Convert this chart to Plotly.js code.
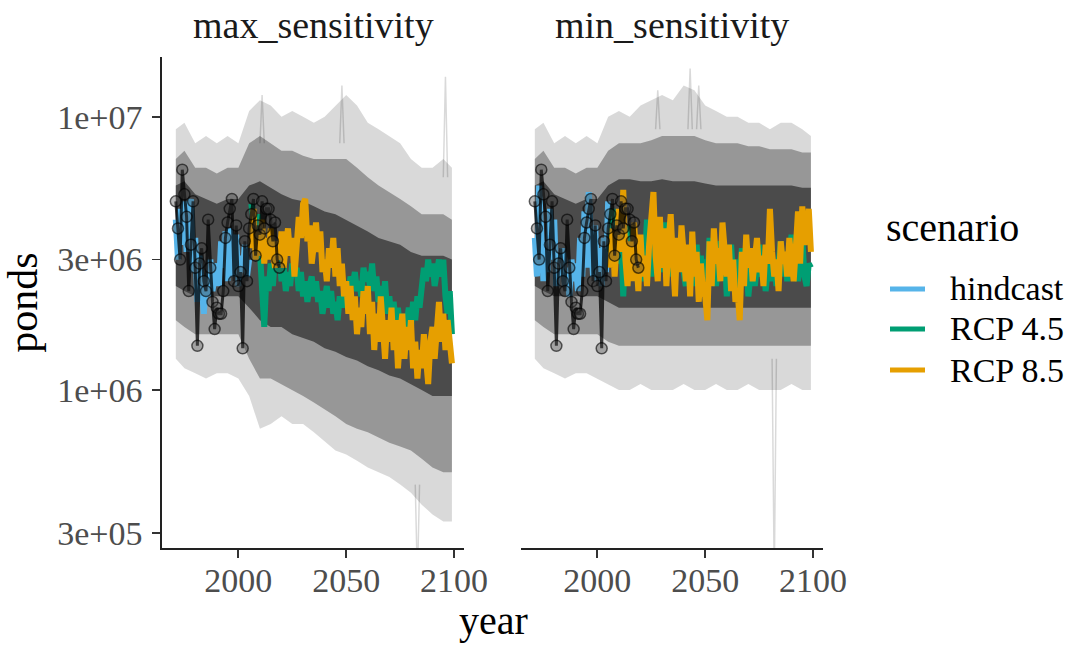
<!DOCTYPE html>
<html><head><meta charset="utf-8">
<script src="https://cdn.plot.ly/plotly-3.0.1.min.js"></script>
<style>html,body{margin:0;padding:0;background:#fff}#chart{width:1071px;height:645px}</style>
</head><body><div id="chart"></div><script>
// ---- data (values in millions of ponds) ----
const panels = ["max_sensitivity", "min_sensitivity"];
const scenarios = ["hindcast", "RCP 4.5", "RCP 8.5"];
const hindStart = 1971, rcpStart = 2006, obsStart = 1971;

const obs_M = [4.9,3.9,3.0,6.4,5.2,4.3,2.3,3.4,4.9,2.8,1.45,2.9,3.3,2.5,2.3,4.2,2.8,2.1,1.67,2.0,1.9,1.9,2.3,3.6,4.1,4.6,5.0,2.5,4.0,2.4,2.7,1.42,3.5,2.5,3.9,4.4,5.0,3.1,4.0,3.7,4.9,3.9,4.6,4.6,4.2,3.5,4.1,3.0,2.8];

const hindMax_M = [4.2,3.0,4.6,3.4,4.9,3.2,4.4,5.0,2.7,3.6,2.1,3.1,2.4,1.9,2.6,2.2,3.0,2.3,2.6,2.9,2.4,3.5,2.8,3.8,2.5,3.9,3.3,2.6,3.7,2.4,3.1,2.7,3.4,2.6,3.0];
const hindMin_M = [3.6,2.6,5.6,3.1,2.5,3.5,2.7,4.6,3.0,4.2,2.4,3.1,2.6,3.3,2.4,2.8,2.2,3.0,2.5,2.9,2.3,3.6,2.6,4.5,2.8,5.3,3.2,2.6,4.0,2.5,3.3,2.4,3.6,2.7,4.9];

const rcp45Max_M = [4.8,4.2,3.6,4.4,3.2,2.2,1.7,2.6,2.3,2.9,2.4,3.1,2.7,3.3,2.5,2.8,2.3,2.7,2.4,2.9,2.6,2.8,2.3,2.7,2.2,2.5,2.1,2.4,2.6,2.2,2.5,2.1,2.3,1.9,2.2,2.4,2.0,2.3,1.9,2.1,1.8,2.2,2.0,2.3,2.0,2.3,2.6,2.4,2.7,2.3,2.5,2.2,2.8,2.5,2.7,2.4,2.9,2.3,2.6,2.1,2.4,2.0,2.5,1.9,2.2,1.8,2.1,1.7,2.0,1.6,1.9,1.5,1.8,2.0,1.7,2.1,1.8,2.2,2.0,2.4,2.8,2.5,3.0,2.6,2.9,2.4,2.8,3.0,2.6,3.0,2.2,1.9,2.3,1.6];
const rcp85Max_M = [3.3,4.6,3.0,3.8,3.1,4.2,2.9,3.6,3.0,3.9,3.2,2.8,3.5,3.0,3.8,2.8,3.4,3.9,3.1,3.6,2.6,3.4,4.3,3.6,4.8,5.0,3.5,4.0,2.9,3.4,4.1,3.2,3.8,2.7,3.0,2.5,3.3,2.8,3.6,2.6,3.3,2.4,2.9,2.2,2.5,1.9,2.4,1.8,2.2,1.6,2.0,1.7,2.3,1.9,2.4,1.6,2.1,1.4,1.9,1.5,2.2,1.7,1.3,1.8,1.5,2.0,1.4,1.8,1.2,1.6,1.9,1.3,1.7,1.4,1.8,1.2,1.5,1.1,1.4,1.2,1.6,1.3,1.05,1.5,1.7,1.3,1.8,2.1,1.5,1.9,1.4,1.8,1.5,1.25];
const rcp45Min_M = [3.2,4.6,3.5,4.2,2.9,3.8,2.2,3.4,2.8,4.0,3.0,2.6,3.6,2.7,3.3,2.5,3.0,4.2,3.1,2.6,3.5,4.0,3.0,2.7,3.4,4.1,2.9,3.6,2.6,3.1,2.5,3.3,2.8,3.7,2.7,2.4,3.2,2.6,2.9,2.4,3.4,2.7,3.1,2.5,3.0,2.6,3.6,2.8,3.3,2.4,2.9,3.5,2.6,3.2,2.2,2.9,3.4,2.5,3.0,2.3,2.8,3.3,2.5,3.1,2.2,2.7,3.2,2.4,2.9,3.4,2.6,3.0,2.3,2.8,3.3,2.5,3.0,2.4,2.8,3.5,2.6,3.1,2.5,3.2,3.7,2.7,3.3,2.5,3.0,3.6,2.6,2.4,2.9,2.8];
const rcp85Min_M = [2.8,3.9,2.6,3.3,4.6,3.2,5.4,3.0,2.4,3.5,2.5,4.1,3.0,2.3,3.7,2.6,3.1,2.4,3.4,4.2,5.3,3.1,2.5,4.3,2.8,3.9,2.4,3.5,4.4,3.0,2.2,3.6,2.7,4.0,3.1,2.5,3.4,2.2,3.8,2.6,3.2,2.1,2.9,2.3,2.2,1.8,3.5,2.4,3.9,2.9,3.3,2.5,4.1,3.0,2.6,3.4,2.3,3.0,2.1,2.3,1.8,3.2,2.4,3.7,2.8,3.3,2.5,3.0,3.6,2.7,3.1,2.4,3.4,2.9,4.6,3.2,2.6,3.0,2.3,3.5,2.9,3.2,2.6,3.6,3.0,2.5,3.3,4.5,2.9,4.7,3.4,3.8,4.6,3.2];

// ensemble envelope (grey cloud), read at these years
const bandYears = [1971,1975,1980,1985,1990,1995,2000,2005,2010,2015,2020,2025,2030,2035,2040,2045,2050,2055,2060,2065,2070,2075,2080,2085,2090,2095,2099];
const maxOuterHi_M = [9.0,9.5,8.0,8.5,8.0,8.5,8.0,10.5,11.5,11.0,10.0,10.5,10.0,9.5,10.0,11.0,12.0,11.0,9.5,9.0,8.5,8.0,7.0,6.5,6.5,7.0,6.5];
const maxOuterLo_M = [1.3,1.2,1.15,1.1,1.15,1.15,1.1,0.95,0.72,0.75,0.8,0.75,0.75,0.7,0.65,0.6,0.58,0.55,0.52,0.5,0.48,0.45,0.42,0.38,0.35,0.33,0.33];
const maxMidHi_M = [7.0,7.5,6.5,6.5,6.2,6.5,6.5,8.0,8.5,8.0,7.5,7.5,7.2,7.0,7.0,7.0,7.0,6.5,6.0,5.6,5.3,5.0,4.7,4.4,4.4,4.4,4.2];
const maxMidLo_M = [1.8,1.7,1.6,1.6,1.6,1.6,1.6,1.3,1.1,1.1,1.05,1.0,0.95,0.9,0.85,0.8,0.75,0.72,0.7,0.67,0.64,0.62,0.6,0.56,0.52,0.5,0.5];
const maxCoreHi_M = [5.6,5.8,5.2,5.0,4.8,5.0,5.0,5.6,5.8,5.5,5.2,5.0,4.9,4.7,4.5,4.4,4.2,4.0,3.8,3.6,3.5,3.4,3.2,3.1,3.1,3.1,3.0];
const maxCoreLo_M = [2.4,2.3,2.2,2.2,2.2,2.2,2.2,2.0,1.8,1.7,1.7,1.6,1.55,1.5,1.42,1.38,1.32,1.28,1.22,1.18,1.13,1.1,1.05,1.0,0.95,0.95,0.95];
const minOuterHi_M = [9.0,9.5,8.0,8.5,8.0,8.5,8.0,10.0,10.5,10.0,11.0,11.5,12.0,11.5,13.0,12.5,11.0,10.5,10.0,10.0,9.5,9.5,9.0,9.5,9.5,9.0,8.5];
const minOuterLo_M = [1.3,1.2,1.15,1.1,1.15,1.15,1.1,1.05,1.0,1.0,1.05,1.0,1.0,1.0,1.05,1.0,1.0,1.05,1.0,1.0,1.05,1.0,1.0,1.0,1.05,1.0,1.0];
const minMidHi_M = [7.0,7.5,6.5,6.5,6.2,6.5,6.5,7.5,8.0,8.0,8.0,8.2,8.5,8.5,8.5,8.5,8.2,8.0,8.0,8.0,7.8,7.8,7.6,7.6,7.6,7.4,7.4];
const minMidLo_M = [1.8,1.7,1.6,1.6,1.6,1.6,1.6,1.5,1.45,1.45,1.45,1.45,1.45,1.45,1.45,1.45,1.45,1.45,1.45,1.45,1.45,1.45,1.45,1.45,1.45,1.45,1.45];
const minCoreHi_M = [5.6,5.8,5.2,5.0,4.8,5.0,5.0,5.6,5.9,5.9,5.8,5.8,5.9,5.8,5.8,5.8,5.7,5.6,5.6,5.6,5.6,5.6,5.6,5.6,5.6,5.5,5.5];
const minCoreLo_M = [2.4,2.3,2.2,2.2,2.2,2.2,2.2,2.1,2.0,2.0,2.0,2.0,2.0,2.0,2.0,2.0,2.0,2.0,2.0,2.0,2.0,2.0,2.0,2.0,2.0,2.0,2.0];

// single extreme ensemble members that stick out of the cloud
const maxSpikeYears = [[2095,2096,2097],[2082,2083,2084],[2047,2048,2049],[2010,2011,2012]];
const maxSpike_M = [[6,14,6],[0.45,0.2,0.45],[8,13,8],[8,12,8]];
const minSpikeYears = [[2081,2082,2083],[2042,2043,2044],[2046,2047,2048],[2027,2028,2029]];
const minSpike_M = [[1.3,0.2,1.3],[9,15,9],[9,13,9],[9,12.5,9]];

const yTickVals = [3e5, 1e6, 3e6, 1e7];
const yTickText = ["3e+05", "1e+06", "3e+06", "1e+07"];
const xTickVals = [2000, 2050, 2100];

// ---- build ----
const M = 1e6;
const toV = a => a.map(v => v * M);
const yrs = (start, n) => Array.from({length: n}, (_, i) => start + i);
const colors = {"hindcast": "#56B4E9", "RCP 4.5": "#009E73", "RCP 8.5": "#E69F00"};
const FONT = "Liberation Serif, Times New Roman, serif";
const W = 1071, H = 645;
const px = v => v / W, py = v => 1 - v / H;

const traces = [];
function band(lo, hi, xa, ya, fill) {
  traces.push({x: bandYears.concat(bandYears.slice().reverse()),
    y: toV(hi).concat(toV(lo).reverse()), fill: "toself", fillcolor: fill,
    mode: "lines", line: {width: 0}, xaxis: xa, yaxis: ya, hoverinfo: "skip", showlegend: false});
}
function series(start, vals, name, xa, ya) {
  traces.push({x: yrs(start, vals.length), y: toV(vals), mode: "lines", name: name,
    line: {color: colors[name], width: 6}, xaxis: xa, yaxis: ya, showlegend: false});
}
const pdata = [
  {xa: "x", ya: "y", bands: [[maxOuterLo_M, maxOuterHi_M], [maxMidLo_M, maxMidHi_M], [maxCoreLo_M, maxCoreHi_M]],
   spikesX: maxSpikeYears, spikesY: maxSpike_M, hind: hindMax_M, r45: rcp45Max_M, r85: rcp85Max_M},
  {xa: "x2", ya: "y2", bands: [[minOuterLo_M, minOuterHi_M], [minMidLo_M, minMidHi_M], [minCoreLo_M, minCoreHi_M]],
   spikesX: minSpikeYears, spikesY: minSpike_M, hind: hindMin_M, r45: rcp45Min_M, r85: rcp85Min_M}
];
const bandFills = ["rgba(0,0,0,0.15)", "rgba(0,0,0,0.30)", "rgba(0,0,0,0.50)"];
pdata.forEach((p, i) => {
  p.bands.forEach((b, k) => band(b[0], b[1], p.xa, p.ya, bandFills[k]));
  p.spikesX.forEach((sx, k) => traces.push({x: sx, y: toV(p.spikesY[k]), mode: "lines",
    line: {color: "rgba(0,0,0,0.15)", width: 1.5}, xaxis: p.xa, yaxis: p.ya, hoverinfo: "skip", showlegend: false}));
  series(hindStart, p.hind, "hindcast", p.xa, p.ya);
  series(rcpStart, p.r45, "RCP 4.5", p.xa, p.ya);
  series(rcpStart, p.r85, "RCP 8.5", p.xa, p.ya);
  traces.push({x: yrs(obsStart, obs_M.length), y: toV(obs_M), mode: "lines+markers",
    line: {color: "rgba(0,0,0,0.75)", width: 3},
    marker: {size: 11, color: "rgba(60,60,60,0.35)", line: {color: "rgba(0,0,0,0.6)", width: 1.5}},
    xaxis: p.xa, yaxis: p.ya, showlegend: false, name: "observed"});
});

const xCommon = {range: [1964.6, 2104.6], tickvals: xTickVals, ticks: "outside", ticklen: 8, tickwidth: 1.8,
  tickcolor: "#333", showline: true, linecolor: "#222", linewidth: 1.8, showgrid: false, zeroline: false,
  tickfont: {family: FONT, size: 34, color: "#4d4d4d"}, ticklabelstandoff: -7, fixedrange: true};

const shapes = [], annotations = [];
// facet strip titles
annotations.push({text: panels[0], x: px(313), y: py(25), xref: "paper", yref: "paper", xanchor: "center", yanchor: "middle",
  showarrow: false, font: {family: FONT, size: 38, color: "#1a1a1a"}});
annotations.push({text: panels[1], x: px(672), y: py(25), xref: "paper", yref: "paper", xanchor: "center", yanchor: "middle",
  showarrow: false, font: {family: FONT, size: 38, color: "#1a1a1a"}});
// shared x title
annotations.push({text: "year", x: px(493), y: py(620), xref: "paper", yref: "paper", xanchor: "center", yanchor: "middle",
  showarrow: false, font: {family: FONT, size: 40, color: "#000"}});
// legend
annotations.push({text: "scenario", x: px(884), y: py(227), xref: "paper", yref: "paper", xanchor: "left", yanchor: "middle",
  showarrow: false, font: {family: FONT, size: 40, color: "#000"}});
const legY = [289, 329, 370];
scenarios.forEach((s, i) => {
  shapes.push({type: "line", xref: "paper", yref: "paper", x0: px(890), x1: px(925), y0: py(legY[i]), y1: py(legY[i]),
    line: {color: colors[s], width: 5}});
  annotations.push({text: s, x: px(948), y: py(legY[i]), xref: "paper", yref: "paper", xanchor: "left", yanchor: "middle",
    showarrow: false, font: {family: FONT, size: 34, color: "#000"}});
});

const layout = {
  width: W, height: H, margin: {l: 0, r: 0, t: 0, b: 0},
  paper_bgcolor: "#fff", plot_bgcolor: "rgba(0,0,0,0)",
  font: {family: FONT},
  showlegend: false,
  xaxis: Object.assign({}, xCommon, {domain: [px(162), px(464)], anchor: "y"}),
  xaxis2: Object.assign({}, xCommon, {domain: [px(521), px(823)], anchor: "y2"}),
  yaxis: {type: "log", range: [5.4212, 7.2187], domain: [py(548), py(57)], anchor: "x",
    tickvals: yTickVals, ticktext: yTickText, ticks: "outside", ticklen: 8, tickwidth: 1.8, tickcolor: "#333",
    showline: true, linecolor: "#222", linewidth: 1.8, showgrid: false, zeroline: false,
    tickfont: {family: FONT, size: 34, color: "#4d4d4d"}, ticklabelstandoff: 3,
    title: {text: "ponds", font: {family: FONT, size: 42, color: "#000"}, standoff: 8}},
  yaxis2: {type: "log", matches: "y", domain: [py(548), py(57)], anchor: "x2", showline: false, ticks: "",
    showticklabels: false, showgrid: false, zeroline: false},
  shapes: shapes,
  annotations: annotations
};
Plotly.newPlot("chart", traces, layout, {staticPlot: true, displayModeBar: false});
</script></body></html>
